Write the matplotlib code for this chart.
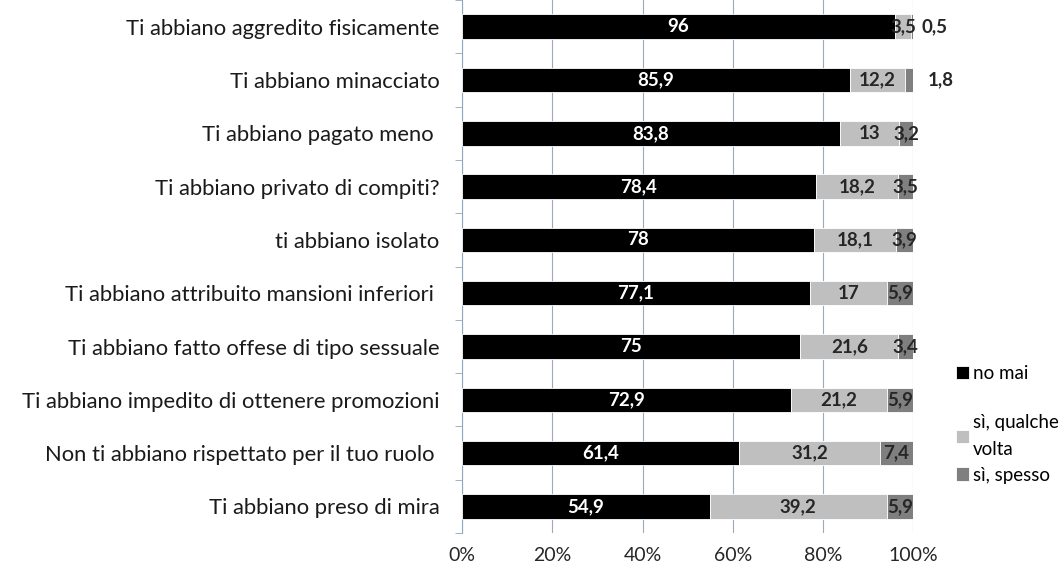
import numpy as np
import matplotlib.pyplot as plt
from matplotlib.ticker import FixedLocator, PercentFormatter

plt.rcParams['font.family'] = ['Lato', 'DejaVu Sans']

categories = [
    "Ti abbiano aggredito fisicamente",
    "Ti abbiano minacciato",
    "Ti abbiano pagato meno ",
    "Ti abbiano privato di compiti?",
    "ti abbiano isolato",
    "Ti abbiano attribuito mansioni inferiori ",
    "Ti abbiano fatto offese di tipo sessuale",
    "Ti abbiano impedito di ottenere promozioni",
    "Non ti abbiano rispettato per il tuo ruolo ",
    "Ti abbiano preso di mira",
]
no_mai = [96, 85.9, 83.8, 78.4, 78, 77.1, 75, 72.9, 61.4, 54.9]
qualche_volta = [3.5, 12.2, 13, 18.2, 18.1, 17, 21.6, 21.2, 31.2, 39.2]
spesso = [0.5, 1.8, 3.2, 3.5, 3.9, 5.9, 3.4, 5.9, 7.4, 5.9]

series = [
    ("no mai", no_mai, "#000000", "white"),
    ("sì, qualche\nvolta", qualche_volta, "#bfbfbf", "#262626"),
    ("sì, spesso", spesso, "#7f7f7f", "#262626"),
]

fig = plt.figure(figsize=(10.62, 5.72), dpi=100)
ax = fig.add_axes([0.435, 0.068, 0.425, 0.932])

y = np.arange(len(categories))
left = np.zeros(len(categories))
handles = []
for name, vals, color, tcolor in series:
    vals = np.array(vals, dtype=float)
    bars = ax.barh(y, vals, left=left, height=0.46, color=color, label=name,
                   edgecolor="white", linewidth=0.6, zorder=3)
    handles.append(bars)
    for yi, l, v in zip(y, left, vals):
        txt = f"{v:g}".replace(".", ",")
        if v < 2:
            # small slices: label placed just right of the bar
            ax.annotate(txt, (100, yi), xytext=(15 + (5 if v > 1 else 0), 0),
                        textcoords="offset points", va="center", ha="center",
                        fontsize=13.5, fontweight="bold", color="#262626")
        else:
            ax.text(l + v / 2, yi, txt, ha="center", va="center",
                    fontsize=13.5, fontweight="bold", color=tcolor, zorder=4)
    left += vals

ax.set_xlim(0, 100)
ax.set_ylim(len(categories) - 0.5, -0.5)
ax.set_xticks(np.arange(0, 101, 20))
ax.xaxis.set_major_formatter(PercentFormatter(decimals=0))
ax.set_yticks(y)
ax.set_yticklabels(categories, fontsize=15.8, color="#1a1a1a")
ax.yaxis.set_minor_locator(FixedLocator(np.arange(-0.5, len(categories), 1)))
ax.tick_params(axis="y", which="major", length=0, pad=16)
ax.tick_params(axis="y", which="minor", length=5, color="#8fa8c0")
ax.tick_params(axis="x", length=0, labelsize=14, pad=10, labelcolor="#262626")
ax.grid(axis="x", color="#9aaabb", linewidth=0.8, zorder=0)
for s in ["top", "right", "bottom"]:
    ax.spines[s].set_visible(False)
ax.spines["left"].set_color("#8fa8c0")

leg_kw = dict(loc="upper left", frameon=False, fontsize=13.5, handlelength=0.7,
              handleheight=0.7, handletextpad=0.2, borderaxespad=0,
              labelspacing=0.45)
fig.legend(handles[:1], ["no mai"], bbox_to_anchor=(0.893, 0.375), **leg_kw)
leg2 = fig.legend(handles[1:], ["sì, qualche\nvolta", "sì, spesso"],
                  bbox_to_anchor=(0.893, 0.29), **leg_kw)
for t in leg2.get_texts():
    t.set_linespacing(1.75)

fig.savefig("out.png", dpi=100)
